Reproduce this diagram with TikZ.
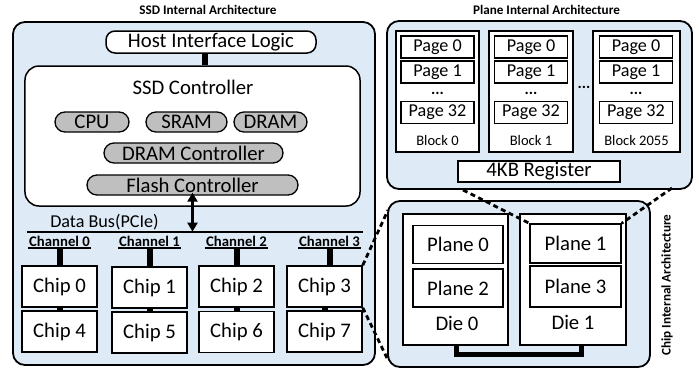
\documentclass[tikz,border=0pt]{standalone}
\usepackage{fontspec}
\setmainfont{Carlito}
\usetikzlibrary{arrows.meta}
\definecolor{lblue}{HTML}{DEEBF7}
\definecolor{pgray}{HTML}{BFBFBF}
\newcommand{\FsBig}{\fontsize{20.8}{24}\selectfont}
\newcommand{\FsMid}{\fontsize{18.2}{21}\selectfont}
\newcommand{\FsSmall}{\fontsize{14.6}{17}\selectfont}
\newcommand{\FsTitle}{\fontsize{13.2}{15}\selectfont\bfseries}
\begin{document}
\begin{tikzpicture}[x=1bp,y=-1bp,
 outerbox/.style={draw, line width=1.8bp, fill=lblue, rounded corners=12bp, inner sep=0pt},
 wbox/.style={draw, line width=1.5bp, fill=white, inner sep=0pt},
 pill/.style={draw, line width=1.3bp, fill=pgray, rounded corners=10bp, inner sep=0pt, minimum height=20bp, font=\FsBig},
 chip/.style={wbox, minimum width=75bp, minimum height=41bp, font=\FsBig},
 page/.style={wbox, minimum width=73bp, minimum height=22bp, font=\FsMid},
 blockbox/.style={wbox, minimum height=121bp},
 plane/.style={wbox, minimum width=90bp, minimum height=38bp, font=\FsBig},
 die/.style={wbox, minimum width=105bp, minimum height=131bp},
 txt/.style={inner sep=0pt},
 dotsty/.style={inner sep=0pt, font=\fontsize{16}{16}\selectfont\bfseries},
 chan/.style={inner sep=0pt, minimum width=62bp, minimum height=14bp, font=\fontsize{14.8}{16}\selectfont\bfseries},
 bar/.style={line width=6bp, line cap=butt},
 zoomline/.style={line width=2.8bp, dash pattern=on 5bp off 3.5bp},
]
\useasboundingbox (0,0) rectangle (699,372);

% titles
\node[txt, font=\FsTitle] (t1) at (208,10) {SSD Internal Architecture};
\node[txt, font=\FsTitle] (t2) at (546.5,10) {Plane Internal Architecture};
\node[txt, font=\FsTitle, rotate=90] (t3) at (667,285) {Chip Internal Architecture};

% ---------------- SSD ----------------
\node[outerbox, minimum width=362bp, minimum height=343bp] (ssd) at (194,193.5) {};
\node[wbox, rounded corners=9bp, minimum width=210bp, minimum height=22bp, font=\FsBig] (host) at (211,42) {Host Interface Logic};
\node[wbox, rounded corners=14bp, minimum width=335bp, minimum height=140bp] (ctrl) at (192.5,136) {};
\draw[bar] ([xshift=-6.5bp]host.south) -- ([xshift=-6.5bp]host.south |- ctrl.north);
\node[txt, font=\FsBig] (ctrllbl) at (193,87) {SSD Controller};
\node[pill, minimum width=74bp] (cpu) at (92,122) {CPU};
\node[pill, minimum width=81bp] (sram) at (186.5,122) {SRAM};
\node[pill, minimum width=73bp] (dram) at (270.5,122) {DRAM};
\node[pill, minimum width=179bp] (dramc) at (193.5,153) {DRAM Controller};
\node[pill, minimum width=211bp] (flash) at (192.5,185) {Flash Controller};

% bus
\coordinate (busL) at (27,232);
\coordinate (busR) at (363,232);
\draw[line width=1.5bp] (busL) -- (busR);
\node[txt, font=\FsMid] (buslbl) at (104.5,222) {Data Bus(PCIe)};
\draw[line width=2.6bp, {Triangle[width=10bp,length=9bp]}-{Triangle[width=10bp,length=9bp]}] ([yshift=3bp]flash.south) -- ++(0,39);

% channels
\node[chan] (ch0) at (59.5,241) {Channel 0};
\node[chan] (ch1) at (149.5,241) {Channel 1};
\node[chan] (ch2) at (236.5,241) {Channel 2};
\node[chan] (ch3) at (329.5,241) {Channel 3};
\foreach \c in {ch0,ch1,ch2,ch3}{\draw[line width=1.5bp] (\c.south west) -- (\c.south east);}

% chips
\node[chip] (chip0) at (59.5,286.5) {Chip 0};
\node[chip] (chip4) at (59.5,331.5) {Chip 4};
\node[chip] (chip1) at (149.5,287.5) {Chip 1};
\node[chip] (chip5) at (149.5,332.5) {Chip 5};
\node[chip] (chip2) at (236.5,286.5) {Chip 2};
\node[chip] (chip6) at (236.5,332) {Chip 6};
\node[chip] (chip3) at (324.5,286.5) {Chip 3};
\node[chip] (chip7) at (324.5,331.5) {Chip 7};
\draw[bar] (ch0.south) -- (chip0.north);
\draw[bar] (ch1.south) -- (chip1.north);
\draw[bar] (ch2.south) -- (chip2.north);
\draw[bar] (ch3.south) -- (ch3.south |- chip3.north);
\draw[bar] (chip0.south) -- (chip4.north);
\draw[bar] (chip1.south) -- (chip5.north);
\draw[bar] (chip2.south) -- (chip6.north);
\draw[bar] (chip3.south) -- (chip7.north);

% ---------------- Plane ----------------
\node[outerbox, minimum width=305bp, minimum height=168bp] (planebox) at (539.5,105) {};
\node[blockbox, minimum width=83bp] (blk0) at (437.5,91.5) {};
\node[blockbox, minimum width=84bp] (blk1) at (531,91.5) {};
\node[blockbox, minimum width=87bp] (blk2) at (636.5,91.5) {};
\foreach \n/\x in {a/437.5,b/531,c/636}{
  \node[page] (p0\n) at (\x,47) {Page 0};
  \node[page] (p1\n) at (\x,72) {Page 1};
  \node[dotsty] (dots\n) at (\x,93) {...};
  \node[page] (p32\n) at (\x,112.5) {Page 32};
}
\node[txt, font=\FsSmall] (bl0) at (437.5,140) {Block 0};
\node[txt, font=\FsSmall] (bl1) at (531,140) {Block 1};
\node[txt, font=\FsSmall] (bl2) at (636.5,140) {Block 2055};
\node[dotsty] (bdots) at (584,87) {...};
\node[wbox, minimum width=162bp, minimum height=21bp, font=\FsBig] (reg) at (539,171.5) {4KB Register};

% ---------------- Chip ----------------
\node[outerbox, minimum width=262bp, minimum height=166bp] (chipbox) at (519,284) {};
\node[die] (die0) at (455.5,279.5) {};
\node[die, minimum width=106bp] (die1) at (573,279.5) {};
\node[plane] (pl0) at (458,244.5) {Plane 0};
\node[plane] (pl2) at (458,288) {Plane 2};
\node[plane, minimum width=91bp, minimum height=39bp] (pl1) at (575.5,243.5) {Plane 1};
\node[plane, minimum width=91bp, minimum height=41bp] (pl3) at (575.5,286.5) {Plane 3};
\node[txt, font=\FsBig] (d0l) at (457,323) {Die 0};
\node[txt, font=\FsBig] (d1l) at (573,322) {Die 1};
\draw[line width=5bp, line cap=butt] ([xshift=0.5bp]die0.south) -- ++(0,9) -| ([xshift=8.5bp]die1.south);

% zoom lines
\coordinate (za) at (388,210);
\coordinate (zb) at (387,358);
\coordinate (zc) at (463,190);
\coordinate (zd) at (672,188);
\draw[zoomline] (chip3.north east) -- (za);
\draw[zoomline] (chip3.south east) -- (zb);
\draw[zoomline] (zc) -- (pl1.north west);
\draw[zoomline] (zd) -- (pl1.north east);
\end{tikzpicture}
\end{document}
